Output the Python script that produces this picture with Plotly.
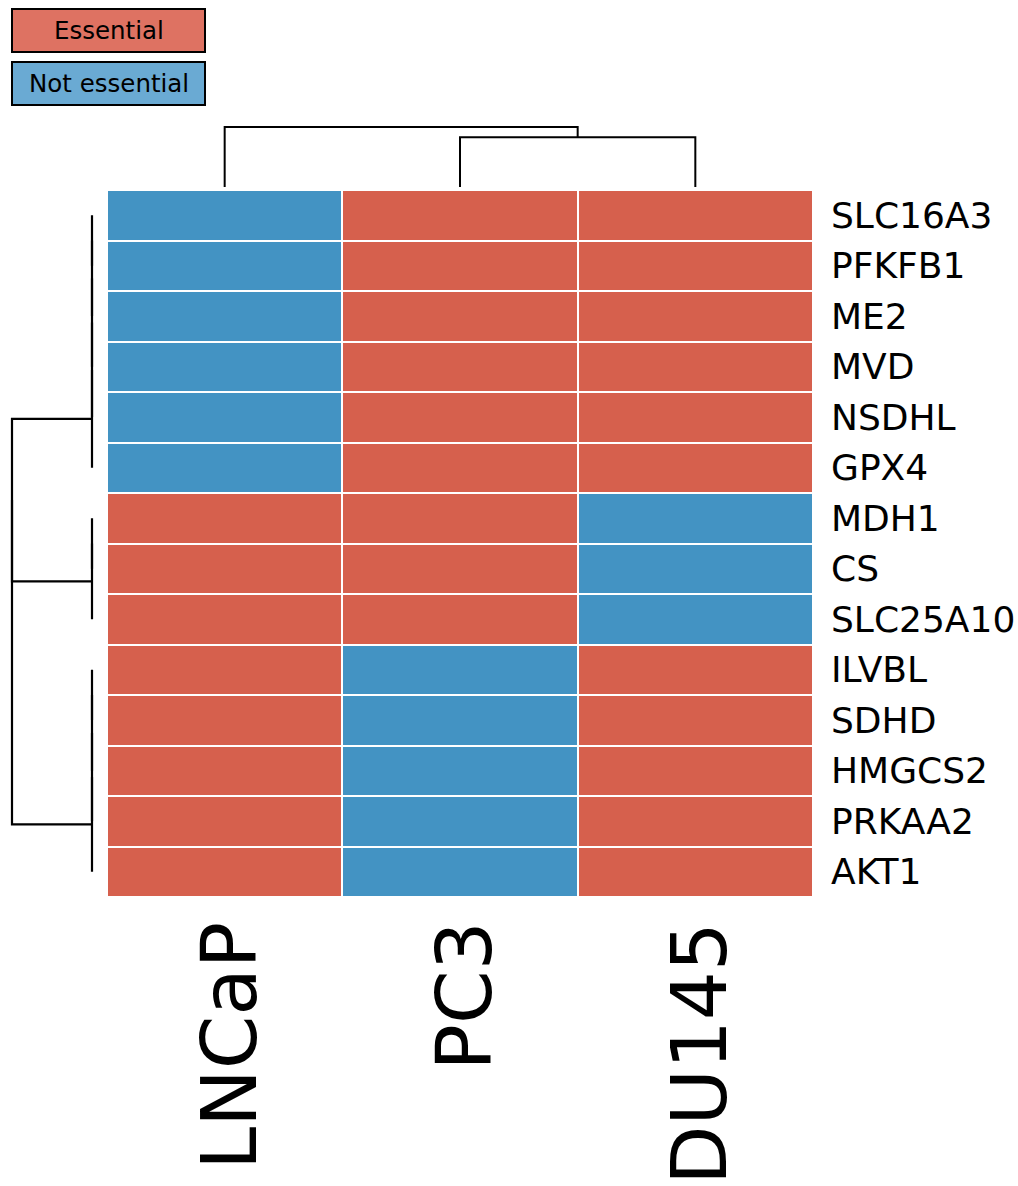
import plotly.graph_objects as go

W, H = 1018, 1186
OFF = 0  # page body margin removed via post_script

genes = ["SLC16A3", "PFKFB1", "ME2", "MVD", "NSDHL", "GPX4", "MDH1", "CS",
         "SLC25A10", "ILVBL", "SDHD", "HMGCS2", "PRKAA2", "AKT1"]
cell_lines = ["LNCaP", "PC3", "DU145"]
# 1 = Essential, 0 = Not essential
LNCaP = [0, 0, 0, 0, 0, 0, 1, 1, 1, 1, 1, 1, 1, 1]
PC3 = [1, 1, 1, 1, 1, 1, 1, 1, 1, 0, 0, 0, 0, 0]
DU145 = [1, 1, 1, 1, 1, 1, 0, 0, 0, 1, 1, 1, 1, 1]
legend_labels = ["Essential", "Not essential"]

# linkage (scipy style): [left id, right id, height]
row_linkage = [
    [0, 1, 0.0], [14, 2, 0.0], [15, 3, 0.0], [16, 4, 0.0], [17, 5, 0.0],
    [6, 7, 0.0], [19, 8, 0.0],
    [9, 10, 0.0], [21, 11, 0.0], [22, 12, 0.0], [23, 13, 0.0],
    [18, 20, 1.0], [25, 24, 1.0],
]
col_linkage = [[1, 2, 0.83], [0, 3, 1.0]]

RED = "#d6604d"
BLUE = "#4393c3"
LEG_RED = "#de7262"
LEG_BLUE = "#6aaad3"
FONT = "DejaVu Sans"


def px_x(p):
    return (p - OFF) / W


def px_y(p):
    return 1 - (p - OFF) / H


def dendro_segments(linkage, n_leaves):
    pos = {i: float(i) for i in range(n_leaves)}
    hgt = {i: 0.0 for i in range(n_leaves)}
    segs = []
    for k, (a, b, h) in enumerate(linkage):
        nid = n_leaves + k
        segs.append(([hgt[a], h, h, hgt[b]], [pos[a], pos[a], pos[b], pos[b]]))
        pos[nid] = (pos[a] + pos[b]) / 2
        hgt[nid] = h
    return segs


z = [[LNCaP[i], PC3[i], DU145[i]] for i in range(len(genes))]

fig = go.Figure()

fig.add_trace(go.Heatmap(
    z=z, x=list(range(len(cell_lines))), y=list(range(len(genes))),
    colorscale=[[0, BLUE], [0.5, BLUE], [0.5, RED], [1, RED]],
    zmin=0, zmax=1, showscale=False, xgap=2, ygap=2,
    xaxis="x", yaxis="y", hoverinfo="skip",
))

# heatmap area in pixels (reference coordinates)
HX0, HX1, HY0, HY1 = 107, 813, 190, 897

# row dendrogram: height 0 at px 92, height 1 at px 12
rx0, rx1 = 9, 96


def rh(p):
    return (92 - p) / 80.0


for hs, ys in dendro_segments(row_linkage, len(genes)):
    fig.add_trace(go.Scatter(x=hs, y=ys, mode="lines", line=dict(color="black", width=2.2),
                             xaxis="x2", yaxis="y2", hoverinfo="skip", showlegend=False))

# column dendrogram: height 0 at px 187, height 1 at px 127
cy0, cy1 = 120, 190


def ch(p):
    return (187 - p) / 60.0


for hs, xs in dendro_segments(col_linkage, len(cell_lines)):
    fig.add_trace(go.Scatter(x=xs, y=hs, mode="lines", line=dict(color="black", width=2),
                             xaxis="x3", yaxis="y3", hoverinfo="skip", showlegend=False))

hidden = dict(showgrid=False, zeroline=False, showticklabels=False, ticks="", showline=False)

fig.update_layout(
    width=W, height=H, margin=dict(l=0, r=0, t=0, b=0),
    paper_bgcolor="white", plot_bgcolor="white", showlegend=False,
    xaxis=dict(domain=[px_x(HX0), px_x(HX1)], range=[-0.5, 2.5], **hidden),
    yaxis=dict(domain=[px_y(HY1), px_y(HY0)], range=[13.5, -0.5], **hidden),
    xaxis2=dict(domain=[px_x(rx0), px_x(rx1)], range=[rh(rx0), rh(rx1)], anchor="y2", **hidden),
    yaxis2=dict(domain=[px_y(HY1), px_y(HY0)], range=[13.5, -0.5], anchor="x2", **hidden),
    xaxis3=dict(domain=[px_x(HX0), px_x(HX1)], range=[-0.5, 2.5], anchor="y3", **hidden),
    yaxis3=dict(domain=[px_y(cy1), px_y(cy0)], range=[ch(cy1), ch(cy0)], anchor="x3", **hidden),
)

# row labels
for i, g in enumerate(genes):
    fig.add_annotation(x=px_x(829), xref="paper", y=i, yref="y", text=g, showarrow=False,
                       xanchor="left", yanchor="middle",
                       font=dict(family=FONT, size=36, color="black"))

# column labels
for j, c in enumerate(cell_lines):
    fig.add_annotation(x=j, xref="x", y=px_y(920), yref="paper", text=c, showarrow=False,
                       textangle=-90, xanchor="center", yanchor="top", xshift=4,
                       font=dict(family=FONT, size=77, color="black"))

# legend boxes
leg_boxes = [(9, 52, LEG_RED), (62, 105, LEG_BLUE)]
for (y0, y1, col), lab in zip(leg_boxes, legend_labels):
    fig.add_shape(type="rect", xref="paper", yref="paper",
                  x0=px_x(12), x1=px_x(205), y0=px_y(y1), y1=px_y(y0),
                  fillcolor=col, line=dict(color="black", width=2))
    fig.add_annotation(x=px_x(108.5), y=px_y((y0 + y1) / 2), xref="paper", yref="paper",
                       text=lab, showarrow=False, xanchor="center", yanchor="middle",
                       font=dict(family=FONT, size=24.5, color="black"))

fig.write_html("out.html", config={"displayModeBar": False},
               post_script="document.body.style.margin='0';document.body.style.overflow='hidden';")
